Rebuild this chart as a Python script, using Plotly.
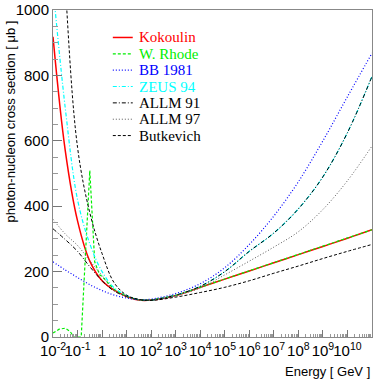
import plotly.graph_objects as go

# energies in GeV (common grid)
energy = [0.01, 0.0316, 0.1, 0.316, 1, 3.16, 10, 31.6, 100,
          1e3, 1e4, 1e5, 1e6, 1e7, 1e8, 1e9, 1e10, 1e11]

# photon-nucleon cross sections in microbarn
kokoulin = [918, 570, 355, 232, 172, 143, 124, 113, 113,
            127, 152, 177, 202, 227, 252, 277, 302, 328]
bb1981 = [230, 205, 182, 160, 142, 128, 119, 114, 116,
          133, 163, 212, 283, 370, 475, 600, 735, 868]
zeus94 = [1070, 700, 420, 285, 200, 150, 127, 114, 113,
          128, 155, 200, 262, 318, 392, 490, 625, 797]
allm91 = [331, 298, 262, 215, 172, 140, 124, 114, 113,
          128, 155, 200, 262, 318, 392, 490, 625, 797]
allm97 = [360, 315, 280, 233, 188, 142, 124, 114, 113,
          127, 150, 190, 232, 275, 322, 390, 478, 584]
butkevich = [1900, 1080, 580, 380, 255, 165, 128, 115, 112,
             122, 136, 152, 172, 195, 217, 240, 262, 283]

# W. Rhode has its own grid (resonance region)
rhode_energy = [0.01, 0.0178, 0.0316, 0.05, 0.0708, 0.141, 0.316, 0.5, 0.794,
                1, 3.16, 10, 31.6, 100, 1e3, 1e4, 1e5, 1e6, 1e7, 1e8, 1e9, 1e10, 1e11]
rhode = [12, 24, 27, 17, 0, 0, 509, 230, 190,
         185, 145, 124, 113, 113, 127, 152, 177, 202, 227, 252, 277, 302, 328]

tick_vals = [1e-2, 1e-1, 1, 10, 1e2, 1e3, 1e4, 1e5, 1e6, 1e7, 1e8, 1e9, 1e10]
tick_text = ['10<sup>-2</sup>', '10<sup>-1</sup>', '1', '10', '10<sup>2</sup>',
             '10<sup>3</sup>', '10<sup>4</sup>', '10<sup>5</sup>', '10<sup>6</sup>',
             '10<sup>7</sup>', '10<sup>8</sup>', '10<sup>9</sup>', '10<sup>10</sup>']

# short ROOT-like dash patterns
DASH = '3px,2px'
DOT = '1px,2px'
DASHDOT = '4px,2px,1px,2px'

series = [
    ('Kokoulin', energy, kokoulin, '#ff0000', 'solid', 1.5, 'spline'),
    ('W. Rhode', rhode_energy, rhode, '#00ee00', DASH, 1.2, 'linear'),
    ('BB 1981', energy, bb1981, '#0000ff', DOT, 1.2, 'spline'),
    ('ZEUS 94', energy, zeus94, '#00ffff', DASHDOT, 1.2, 'spline'),
    ('ALLM 91', energy, allm91, '#000000', DASHDOT, 1.0, 'spline'),
    ('ALLM 97', energy, allm97, '#555555', DOT, 1.0, 'spline'),
    ('Butkevich', energy, butkevich, '#000000', DASH, 1.0, 'spline'),
]

fig = go.Figure()
for name, x, y, color, dash, width, shape in series:
    fig.add_trace(go.Scatter(
        x=x, y=y, mode='lines', name=name, showlegend=False,
        line=dict(color=color, dash=dash, width=width, shape=shape),
    ))

# ROOT-style legend: short line sample + coloured serif label
row_top = 0.916
row_step = 0.05
for i, (name, x, y, color, dash, width, shape) in enumerate(series):
    ypos = row_top - i * row_step
    fig.add_shape(type='line', xref='paper', yref='paper',
                  x0=0.1875, x1=0.25, y0=ypos, y1=ypos,
                  line=dict(color=color, dash=dash, width=width))
    fig.add_annotation(text=name, xref='paper', yref='paper',
                       x=0.262, y=ypos, xanchor='left', yanchor='middle',
                       showarrow=False,
                       font=dict(family='Liberation Serif, Times New Roman, serif', size=15,
                                 color='#000000' if color == '#555555' else color))

fig.update_layout(
    width=374, height=382,
    margin=dict(l=53, r=1, t=5, b=45),
    plot_bgcolor='white', paper_bgcolor='white',
    font=dict(family='Liberation Sans, Arial, sans-serif', size=15, color='black'),
    showlegend=False,
)

fig.update_xaxes(
    type='log', range=[-2, 11],
    tickmode='array', tickvals=tick_vals, ticktext=tick_text, tickangle=0,
    ticks='inside', ticklen=7, tickcolor='#777',
    minor=dict(ticks='inside', ticklen=3, tickcolor='#999', dtick='D1'),
    showline=True, linecolor='#888', mirror=True,
    showgrid=False, zeroline=False, ticklabeloverflow='allow',
)
fig.update_yaxes(
    range=[0, 1000], dtick=200,
    ticks='inside', ticklen=9, tickcolor='#777',
    minor=dict(ticks='inside', ticklen=5, tickcolor='#999', dtick=50),
    showline=True, linecolor='#888', mirror=True,
    showgrid=False, zeroline=False, ticklabeloverflow='allow',
)

fig.add_annotation(text='photon-nucleon cross section [ \u03bcb ]',
                   xref='paper', yref='paper', x=-0.134, y=0.975,
                   xanchor='center', yanchor='top', textangle=-90,
                   showarrow=False, font=dict(size=13))
fig.add_annotation(text='Energy [ GeV ]',
                   xref='paper', yref='paper', x=1.0, y=-0.105,
                   xanchor='right', yanchor='middle',
                   showarrow=False, font=dict(size=13))

fig.write_html("out.html", config={'displayModeBar': False},
               post_script="document.body.style.margin='0';")
